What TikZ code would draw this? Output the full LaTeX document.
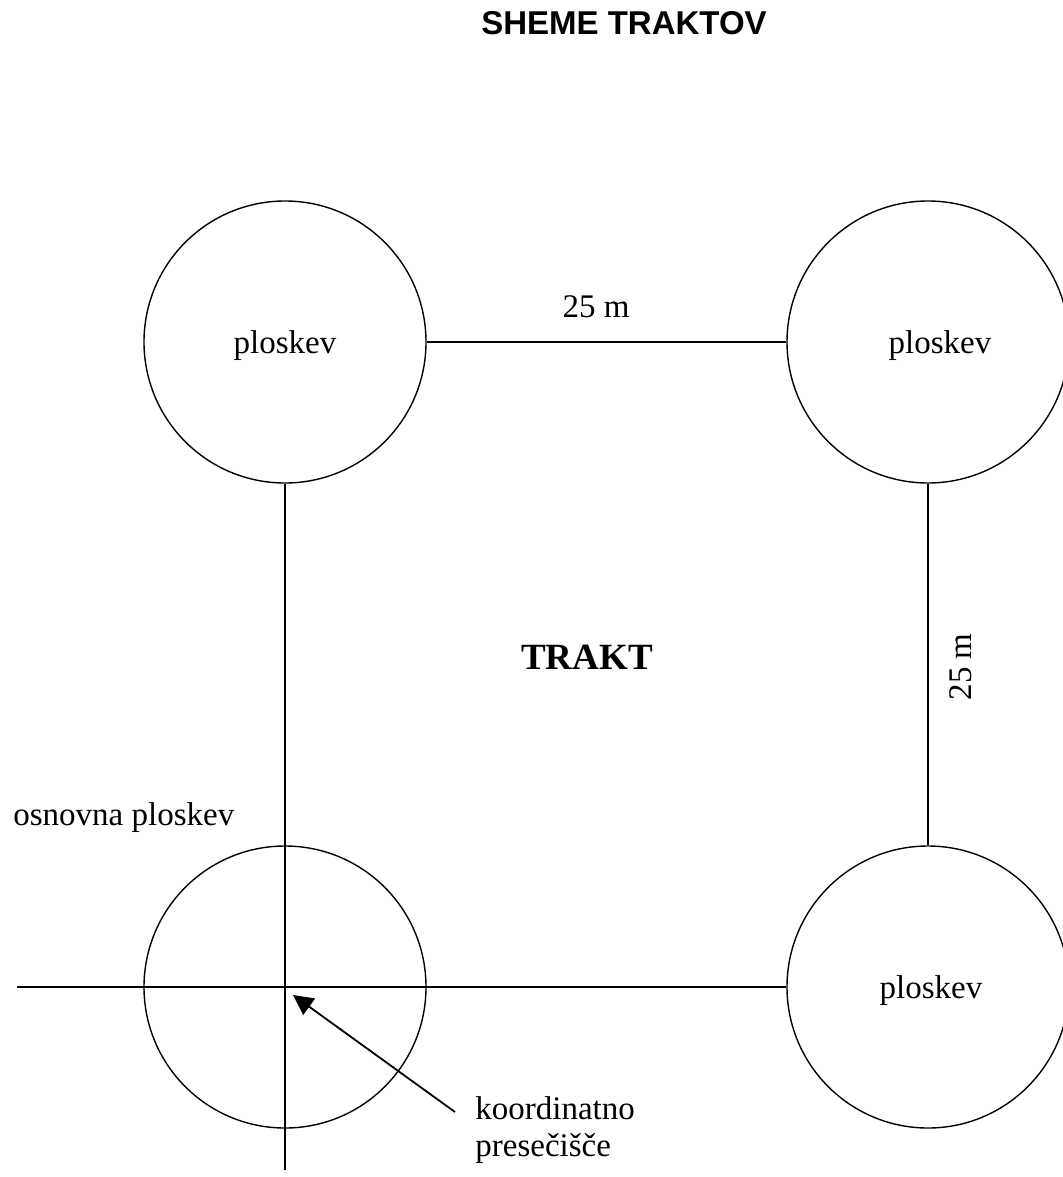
\documentclass[tikz,border=0pt]{standalone}
\usepackage{fontspec}
\setmainfont{Liberation Serif}
\setsansfont{Liberation Sans}
\usetikzlibrary{arrows.meta,positioning,calc}

\begin{document}
\begin{tikzpicture}[
    x=0.5pt, y=-0.5pt,
    plot/.style={circle, draw=black, line width=0.7pt, minimum size=141pt, inner sep=0pt, text depth=0pt, font=\fontsize{16.5}{19}\selectfont},
    txt/.style={inner sep=0pt, font=\fontsize{16.5}{18.5}\selectfont},
    line/.style={draw, line width=0.7pt, color=black},
    pointer/.style={draw, line width=0.9pt, -{Triangle[length=10pt,width=10pt]}}
]
    \useasboundingbox (0,0) rectangle (1062,1177);

    % Title
    \node [font=\sffamily\bfseries\fontsize{16.5}{19}\selectfont] (title) at (624,23) {SHEME TRAKTOV};

    % Plots of the tract
    \node [plot] (tl) at (285,342) {ploskev};
    \node [plot] (tr) at (928,342) {\hspace{12pt}ploskev};
    \node [plot] (bl) at (285,987) {};
    \node [plot] (br) at (928,987) {\hspace{3pt}ploskev};

    % Free ends of the axes
    \coordinate (west end) at (17,987);
    \coordinate (south end) at (285,1170);

    % Sides
    \path [line] (tl) -- (tr);
    \path [line] (tr) -- (br);
    \path [line] (tl) -- (south end);
    \path [line] (west end) -- (br);

    % Labels
    \node [txt, anchor=base] (side top) at (596,317) {25 m};
    \node [txt, rotate=90] (side right) at (961,667) {25 m};
    \node [txt, font=\bfseries\fontsize{18.5}{22}\selectfont] (trakt) at (587,657) {TRAKT};
    \node [txt, anchor=base west] (base plot) at (13,825) {osnovna ploskev};
    \node [txt, anchor=north west, align=left] (cross) at (475,1096) {koordinatno\\presečišče};

    % Pointer to the crossing
    \coordinate (tail) at (455,1112);
    \coordinate (tip) at (293,995);
    \path [pointer] (tail) -- (tip);
\end{tikzpicture}
\end{document}
